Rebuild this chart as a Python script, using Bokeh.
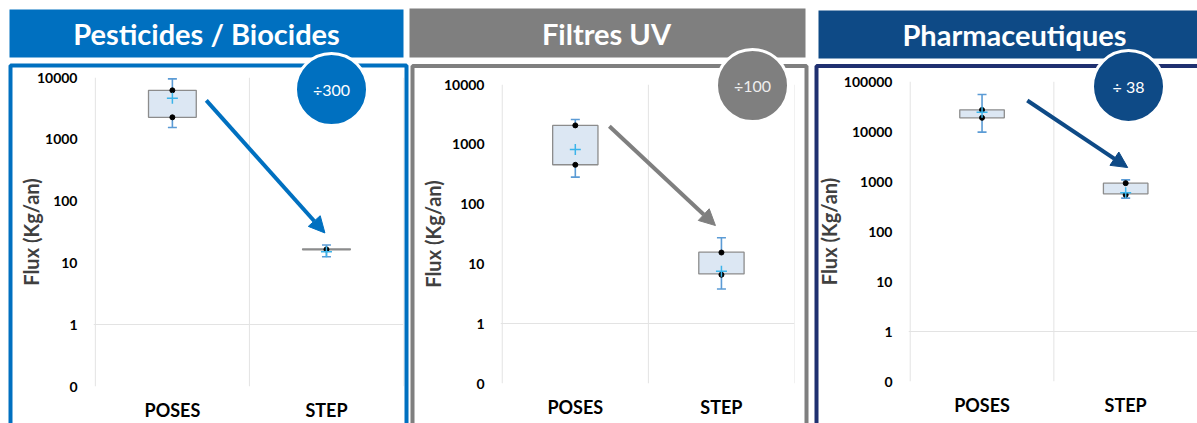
import numpy as np
from bokeh.plotting import figure
from bokeh.models import (FixedTicker, PrintfTickFormatter, Arrow, NormalHead, Range1d,
                          ColumnDataSource, GridBox)
from bokeh.core.properties import value
from bokeh.embed import file_html
from bokeh.resources import INLINE

# ---------------- data ----------------
categories = ["POSES", "STEP"]
titles = ["Pesticides / Biocides", "Filtres UV", "Pharmaceutiques"]
ratio_labels = ["÷300", "÷100", "÷ 38"]
y_tick_values = [[0.1, 1, 10, 100, 1000, 10000],
                 [0.1, 1, 10, 100, 1000, 10000],
                 [0.1, 1, 10, 100, 1000, 10000, 100000]]

# Pesticides / Biocides
pest_low = [1550, 12.6]
pest_q1 = [2270, 16.3]
pest_q3 = [6200, 16.9]
pest_high = [9500, 19.5]
pest_mean = [4600, 15.2]
pest_points = [[6200, 2270], [16.5]]

# Filtres UV
uv_low = [283, 3.8]
uv_q1 = [455, 6.8]
uv_q3 = [2070, 15.7]
uv_high = [2600, 27.3]
uv_mean = [818, 7.5]
uv_points = [[2070, 454], [15.5, 6.6]]

# Pharmaceutiques
ph_low = [9700, 464]
ph_q1 = [18800, 567]
ph_q3 = [27100, 926]
ph_high = [55000, 1080]
ph_mean = [24400, 594]
ph_points = [[27000, 18800], [926, 541]]

panels_data = [
    (pest_low, pest_q1, pest_q3, pest_high, pest_mean, pest_points),
    (uv_low, uv_q1, uv_q3, uv_high, uv_mean, uv_points),
    (ph_low, ph_q1, ph_q3, ph_high, ph_mean, ph_points),
]

# ---------------- layout / style ----------------
FONT = "Lato"
W_TOTAL, H = 1197, 423
panel_style = [
    dict(w=409, left=93, right=6, top=77, bottom=36, xend=2.0, label_standoff=-9,
         color="#0070C0", frame_color="#0070C0", badge_text="#FFFFFF",
         arrow=(0.72, 4260, 1.49, 30.5)),
    dict(w=404, left=91, right=19, top=84, bottom=40, xend=2.0, label_standoff=-4,
         color="#7F7F7F", frame_color="#7F7F7F", badge_text="#EEEEEE",
         arrow=(0.733, 2000, 1.459, 43.8)),
    dict(w=384, left=89, right=0, top=81, bottom=42, xend=2.0, label_standoff=0,
         color="#0E4A86", frame_color="#1F3070", badge_text="#FFFFFF",
         arrow=(0.815, 41700, 1.514, 1900)),
]
# decoration geometry in page pixels (overlay figure)
header_boxes = [(9, 403, 9, 57), (409, 805, 8, 57), (818, 1210, 10, 58)]
frame_boxes = [(10, 406, 65, 460), (412, 806, 65.5, 460), (816, 1220, 65.5, 460)]
title_pos = [(206, 33), (606, 33), (1014, 34)]
badge_pos = [(331, 89), (752, 85), (1128, 86)]

xs = [i + 0.5 for i in range(len(categories))]
bounds = list(range(len(categories) + 1))
figs = []
for k in range(3):
    S = panel_style[k]
    low, q1, q3, high, mean, points = panels_data[k]
    ticks = y_tick_values[k]
    p = figure(width=S["w"], height=H, y_axis_type="log",
               x_range=Range1d(-0.012, S["xend"]), y_range=Range1d(ticks[0], ticks[-1]),
               output_backend="svg", toolbar_location=None, min_border=0)
    p.frame_align = False
    p.min_border_left = S["left"]
    p.min_border_right = S["right"]
    p.min_border_top = S["top"]
    p.min_border_bottom = S["bottom"]
    p.outline_line_color = None

    p.yaxis.ticker = FixedTicker(ticks=ticks, minor_ticks=[])
    p.yaxis.formatter = PrintfTickFormatter(format="%d")
    p.yaxis.axis_line_color = None
    p.yaxis.major_tick_line_color = None
    p.yaxis.minor_tick_line_color = None
    p.yaxis.major_tick_out = 0
    p.yaxis.major_tick_in = 0
    p.yaxis.major_label_standoff = 16
    p.yaxis.major_label_text_font = FONT
    p.yaxis.major_label_text_font_style = "bold"
    p.yaxis.major_label_text_font_size = "14px"
    p.yaxis.major_label_text_color = "#000000"
    p.yaxis.axis_label = "Flux (Kg/an)"
    p.yaxis.axis_label_text_font = FONT
    p.yaxis.axis_label_text_font_style = "bold"
    p.yaxis.axis_label_text_font_size = "20px"
    p.yaxis.axis_label_text_color = "#404040"
    p.yaxis.axis_label_standoff = S["label_standoff"]

    p.xaxis.ticker = FixedTicker(ticks=xs)
    p.xaxis.major_label_overrides = {x: c for x, c in zip(xs, categories)}
    p.xaxis.axis_line_color = None
    p.xaxis.major_tick_line_color = None
    p.xaxis.minor_tick_line_color = None
    p.xaxis.major_tick_out = 0
    p.xaxis.major_tick_in = 0
    p.xaxis.major_label_standoff = 12
    p.xaxis.major_label_text_font = FONT
    p.xaxis.major_label_text_font_style = "bold"
    p.xaxis.major_label_text_font_size = "18px"
    p.xaxis.major_label_text_color = "#000000"

    p.xgrid.visible = False
    p.ygrid.ticker = FixedTicker(ticks=[1])
    p.ygrid.grid_line_color = "#E3E3E3"
    p.segment(x0=bounds, x1=bounds, y0=[ticks[0]] * len(bounds), y1=[ticks[-1]] * len(bounds),
              line_color="#E3E3E3", line_width=1)

    src = ColumnDataSource(dict(x=xs, low=low, q1=q1, q3=q3, high=high, mean=mean))
    p.segment(x0="x", y0="low", x1="x", y1="high", source=src,
              line_color="#5B9BD5", line_width=1.6)
    p.scatter(x="x", y="low", source=src, marker="dash", size=9,
              line_color="#5B9BD5", line_width=1.6)
    p.scatter(x="x", y="high", source=src, marker="dash", size=9,
              line_color="#5B9BD5", line_width=1.6)
    p.vbar(x="x", bottom="q1", top="q3", width=0.31, source=src,
           fill_color="#DCE7F3", line_color="#8C8C8C", line_width=1.3)
    px = [xs[i] for i, pts in enumerate(points) for _ in pts]
    py = [v for pts in points for v in pts]
    p.scatter(px, py, size=5, color="black")
    p.scatter(x="x", y="mean", source=src, marker="cross", size=11,
              line_color="#3BB4EA", line_width=1.5)

    ax0, ay0, ax1, ay1 = S["arrow"]
    p.add_layout(Arrow(x_start=ax0, y_start=ay0, x_end=ax1, y_end=ay1,
                       line_color=S["color"], line_width=4,
                       end=NormalHead(size=16, fill_color=S["color"], line_color=S["color"])))
    figs.append(p)

# ---------------- overlay with headers, frames and badges ----------------
ov = figure(width=W_TOTAL, height=H, x_range=Range1d(0, W_TOTAL), y_range=Range1d(H, 0),
            output_backend="svg", toolbar_location=None, min_border=0,
            x_axis_location=None, y_axis_location=None)
ov.frame_align = False
ov.background_fill_color = None
ov.border_fill_color = None
ov.outline_line_color = None
ov.xgrid.visible = False
ov.ygrid.visible = False

colors = [s["color"] for s in panel_style]
fcolors = [s["frame_color"] for s in panel_style]
ov.quad(left=[b[0] for b in header_boxes], right=[b[1] for b in header_boxes],
        top=[b[2] for b in header_boxes], bottom=[b[3] for b in header_boxes],
        fill_color=colors, line_color=None)
ov.quad(left=[b[0] for b in frame_boxes], right=[b[1] for b in frame_boxes],
        top=[b[2] for b in frame_boxes], bottom=[b[3] for b in frame_boxes],
        fill_alpha=0, line_color=fcolors, line_width=4)
ov.text(x=[t[0] for t in title_pos], y=[t[1] for t in title_pos], text=titles,
        text_align="center", text_baseline="middle", text_font=value(FONT),
        text_font_style="bold", text_font_size="29px", text_color="white")
ov.scatter(x=[b[0] for b in badge_pos], y=[b[1] for b in badge_pos], marker="circle",
           size=72, fill_color=colors, line_color="white", line_width=3)
ov.text(x=[b[0] for b in badge_pos], y=[b[1] for b in badge_pos], text=ratio_labels,
        text_align="center", text_baseline="middle", text_font=value(FONT),
        text_font_size="16px", text_color=[s["badge_text"] for s in panel_style])

grid = GridBox(children=[(figs[0], 0, 0), (figs[1], 0, 1), (figs[2], 0, 2), (ov, 0, 0, 1, 3)])
open("out.html", "w").write(file_html(grid, INLINE))
